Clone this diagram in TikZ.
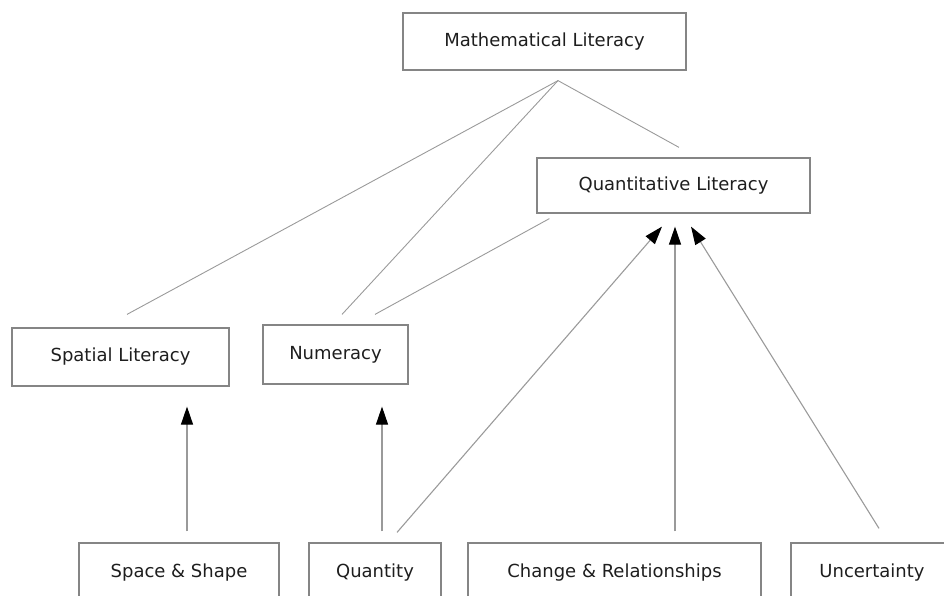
\documentclass[tikz,border=0pt]{standalone}
\usepackage{fontspec}
\setmainfont{DejaVu Sans}
\usetikzlibrary{arrows.meta}
\definecolor{boxgray}{HTML}{858585}
\definecolor{linegray}{HTML}{9A9A9A}
\definecolor{txt}{HTML}{1E1E1E}

\begin{document}
\begin{tikzpicture}[x=1pt,y=1pt,
    box/.style={draw=boxgray,line width=1.2pt,rectangle,inner sep=0pt,text=txt,
      font=\fontsize{18}{21}\selectfont},
    link/.style={draw=linegray,line width=0.9pt},
    up/.style={draw=linegray,line width=1.1pt,-{Triangle[length=18pt,width=12pt,color=black]}}]
  \useasboundingbox (0,0) rectangle (944,595);
  \clip (0,0) rectangle (944,595);

  % upper levels
  \node[box,minimum width=283pt,minimum height=57pt] (mathlit) at (544.5,553.5) {Mathematical Literacy};
  \node[box,minimum width=273pt,minimum height=55pt] (quantlit) at (673.5,409.5) {Quantitative Literacy};
  \node[box,minimum width=217pt,minimum height=58pt] (spatial) at (120.5,238) {Spatial Literacy};
  \node[box,minimum width=145pt,minimum height=59pt] (numeracy) at (335.5,240.5) {Numeracy};

  % content areas
  \node[box,minimum width=200pt,minimum height=60pt] (space) at (179,22) {Space \& Shape};
  \node[box,minimum width=132pt,minimum height=60pt] (quantity) at (375,22) {Quantity};
  \node[box,minimum width=293pt,minimum height=60pt] (change) at (614.5,22) {Change \& Relationships};
  \node[box,minimum width=162pt,minimum height=60pt] (uncert) at (872,22) {Uncertainty};

  \coordinate (apex) at ([xshift=13.5pt,yshift=-10pt]mathlit.south);

  \path
    (apex) edge[link] ([xshift=6.5pt,yshift=13pt]spatial.north)
           edge[link] ([xshift=6.5pt,yshift=10pt]numeracy.north)
           edge[link] ([xshift=5.5pt,yshift=10pt]quantlit.north)
    ([xshift=13pt,yshift=-5pt]quantlit.south west) edge[link] ([xshift=39.5pt,yshift=10pt]numeracy.north);

  \path
    ([xshift=8pt,yshift=11pt]space.north) edge[up] ([xshift=66.5pt,yshift=-20pt]spatial.south)
    ([xshift=7pt,yshift=11pt]quantity.north) edge[up] ([xshift=46.5pt,yshift=-22pt]numeracy.south)
    ([xshift=22pt,yshift=10pt]quantity.north) edge[up] ([xshift=-11.5pt,yshift=-13pt]quantlit.south)
    ([xshift=60.5pt,yshift=11pt]change.north) edge[up] ([xshift=1.5pt,yshift=-13pt]quantlit.south)
    ([xshift=7pt,yshift=14pt]uncert.north) edge[up] ([xshift=17.5pt,yshift=-13pt]quantlit.south);
\end{tikzpicture}
\end{document}
